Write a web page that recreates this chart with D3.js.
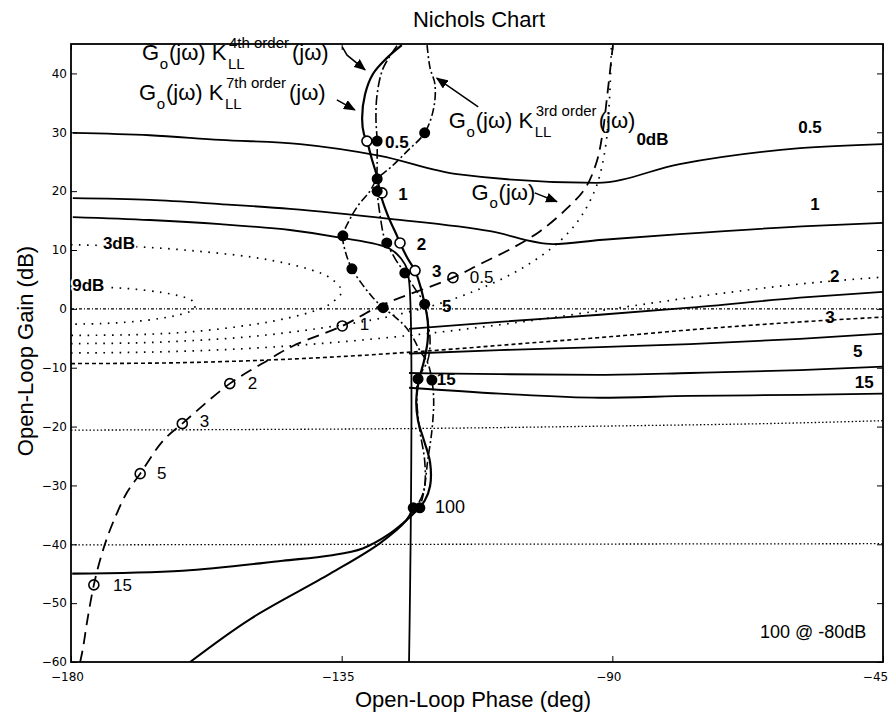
<!DOCTYPE html>
<html><head><meta charset="utf-8">
<script src="https://cdn.jsdelivr.net/npm/d3@7"></script>
<style>
body{margin:0;background:#fff}
svg{display:block;background:#fff}
text{font-family:"Liberation Sans",Arial,Helvetica,sans-serif;fill:#000}
.tick text{font-family:"DejaVu Sans",sans-serif;font-size:12px;fill:#000}
.tick line{stroke:#000;stroke-width:1}
</style></head><body>
<svg id="c" width="892" height="717"></svg>
<script>
// ---------- axes ----------
const phaseTicks = [-180, -135, -90, -45];
const gainTicks = [-60, -50, -40, -30, -20, -10, 0, 10, 20, 30, 40];

// ---------- closed-loop magnitude contours [phase deg, gain dB] ----------
const m3dB = [[-180,10.9],[-170,10.6],[-160,9.9],[-150,8.8],[-145,7.9],[-140,6.6],[-137,5.3],[-135,3.0],[-137,0.8],[-140,-0.5],[-145,-1.8],[-150,-2.7],[-160,-3.9],[-170,-4.4],[-180,-4.5]];
const m9dB = [[-180,3.9],[-175,3.7],[-170,3.4],[-165,2.8],[-162,2.2],[-160,1.5],[-159.3,0.6],[-160,-0.3],[-162,-1.0],[-165,-1.6],[-170,-2.2],[-175,-2.5],[-180,-2.6]];
const m0dB = [[-180,-5.9],[-170,-5.8],[-160,-5.4],[-150,-4.7],[-140,-3.5],[-130,-1.9],[-125,-0.8],[-120,0.5],[-115,2.2],[-110,4.3],[-105,6.9],[-100,10.4],[-97,13.3],[-95,16.0],[-93,19.9],[-92,23.0],[-91,28.5],[-90.6,33.5],[-90.3,39.5],[-90.15,45]];
const mNeg3dB = [[-180,-7.5],[-165,-7.3],[-150,-6.7],[-135,-5.6],[-120,-4.1],[-105,-2.2],[-90,0],[-75,2.2],[-60,4.1],[-45,5.4]];
const mNeg6dB = [[-180,-9.3],[-165,-9.2],[-150,-8.8],[-135,-8.1],[-120,-7.1],[-105,-5.9],[-90,-4.7],[-75,-3.4],[-60,-2.3],[-45,-1.4]];
const mNeg20dB = [[-180,-20.6],[-150,-20.5],[-120,-20.3],[-90,-19.9],[-60,-19.4],[-45,-19.0]];
const mNeg40dB = [[-180,-40.1],[-120,-40.0],[-45,-39.9]];
const zeroGain = [[-180,0],[-45,0]];

// ---------- performance bounds ----------
const bound05 = [[-179.7,29.9],[-166.9,29.5],[-155.2,28.7],[-141.9,28.0],[-128.6,26.0],[-115.8,22.9],[-92.6,21.4],[-78.8,24.6],[-58.8,27.3],[-45,28.0]];
const bound1 = [[-179.7,18.8],[-166.9,18.5],[-155.2,17.8],[-143.6,17.0],[-127.0,15.3],[-110.3,13.2],[-99.9,11.0],[-92.1,11.7],[-78.8,12.7],[-56.6,14.1],[-45,14.6]];
const bound2 = [[-179.7,15.6],[-166.9,15.1],[-155.2,14.4],[-143.6,13.4],[-135.3,12.1],[-127.0,10.2],[-124.5,7.6],[-123.8,4.8],[-123.8,-60]];
const boundR2 = [[-123.8,-3.4],[-108.7,-2.2],[-92.1,-1.0],[-77.1,0.2],[-58.8,1.9],[-45,2.9]];
const boundR5 = [[-123.8,-7.6],[-108.7,-7.0],[-92.1,-6.5],[-77.1,-6.0],[-58.8,-5.1],[-45,-4.2]];
const boundR15 = [[-123.8,-10.9],[-108.7,-11.1],[-92.1,-11.2],[-77.1,-10.9],[-58.8,-10.4],[-45,-9.8]];
const boundRlow = [[-123.8,-13.4],[-108.7,-14.4],[-92.1,-15.1],[-77.1,-14.8],[-58.8,-14.6],[-45,-14.4]];

// ---------- plant and loop transmissions ----------
const plantGo = [[-178.5,-60.1],[-178.0,-57.6],[-177.3,-53.0],[-176.2,-46.9],[-175.2,-42.8],[-174.0,-38.9],[-172.4,-34.8],[-170.7,-31.2],[-168.5,-28.0],[-164.7,-22.4],[-161.5,-19.5],[-153.6,-12.7],[-147.4,-8.8],[-143.1,-6.3],[-134.9,-2.9],[-128.6,0.5],[-116.5,5.3],[-112.0,7.6],[-106.5,10.4],[-102.0,13.2],[-97.5,17.1],[-94.5,20.5],[-92.6,25.0],[-91.6,30.0],[-90.9,35.8],[-89.9,44.8]];
const loop4 = [[-125.0,44.8],[-127.5,42.6],[-129.8,39.9],[-131.1,36.5],[-131.6,32.4],[-131.3,29.7],[-130.8,28.5],[-130.0,25.5],[-129.1,22.4],[-128.6,19.7],[-127.3,15.8],[-125.8,12.4],[-125.3,11.2],[-124.0,8.5],[-122.8,6.5],[-121.8,3.4],[-121.2,0.8],[-120.7,-2.0],[-120.7,-5.4],[-121.3,-8.8],[-122.1,-11.9],[-122.6,-15.6],[-122.3,-19.0],[-121.3,-22.4],[-120.3,-26.1],[-120.3,-30.1],[-121.2,-32.6],[-122.6,-34.3],[-124.0,-35.7],[-127.0,-38.2],[-131.5,-40.7],[-136.9,-41.9],[-144.8,-42.8],[-161.4,-44.5],[-179.8,-45.0]];
const loop7 = [[-125.8,44.7],[-128.1,40.9],[-129.1,36.5],[-129.3,32.4],[-129.1,28.5],[-129.1,25.1],[-129.1,20.0],[-128.6,15.8],[-128.0,12.4],[-127.5,11.2],[-126.1,8.5],[-124.5,6.1],[-122.8,3.4],[-121.2,0.8],[-120.7,-2.0],[-120.3,-5.4],[-120.7,-8.8],[-122.3,-11.9],[-122.5,-15.6],[-122.0,-20.7],[-121.2,-25.8],[-121.2,-30.1],[-122.0,-32.6],[-123.1,-33.8]];
const loop7Tail = [[-123.1,-33.7],[-124.3,-36.0],[-128.6,-39.8],[-136.9,-45.0],[-150.2,-52.7],[-160.2,-60.0]];
const loop3 = [[-120.8,44.8],[-120.3,40.9],[-119.5,38.2],[-119.7,34.1],[-121.2,29.9],[-124.1,26.8],[-127.0,23.9],[-129.1,22.1],[-130.3,20.0],[-132.3,17.5],[-133.6,15.3],[-134.8,12.4],[-134.4,9.8],[-133.3,6.8],[-131.6,4.2],[-129.8,1.9],[-128.1,0.2],[-126.1,-1.4],[-124.5,-2.9],[-123.3,-4.6],[-122.0,-7.1],[-120.7,-9.2],[-120.0,-12.1],[-119.7,-15.6],[-120.0,-20.7],[-120.7,-25.8],[-121.3,-30.9],[-122.0,-33.8]];

// ---------- frequency markers ----------
const freqs = ["0.5","1","2","3","5","15","100"];
const markers4 = [[-130.8,28.5],[-128.3,19.7],[-125.3,11.2],[-122.8,6.5]];
const markers7 = [[-129.1,28.5],[-129.1,20.0],[-127.5,11.2],[-124.5,6.1],[-121.2,0.8],[-122.3,-11.9],[-123.1,-33.8]];
const markers3 = [[-121.2,29.9],[-129.1,22.1],[-134.8,12.4],[-133.3,6.8],[-128.1,0.2],[-120.0,-12.1],[-122.0,-33.8]];
const markersGo = [[-116.5,5.3],[-134.9,-2.9],[-153.6,-12.7],[-161.5,-19.5],[-168.5,-28.0],[-176.2,-46.9]];
const markersGoFreq = ["0.5","1","2","3","5","15"];

// ---------- annotation anchors (data units) ----------
const loopFreqLabels = [["0.5",-127.8,27.3],["1",-125.6,18.5],["2",-122.5,10.0],["3",-120.0,5.4],["5",-118.3,-0.5],["15",-119.2,-12.9]];
const goFreqLabels = [["0.5",-113.7,4.4],["1",-132.0,-3.6],["2",-150.6,-13.7],["3",-158.6,-20.0],["5",-165.7,-28.9],["15",-173.0,-48.0]];
const boundLabels = [["0.5",-59.1,29.9],["1",-57.1,16.8],["2",-53.8,4.6],["3",-54.6,-2.4],["5",-50.0,-8.2],["15",-49.7,-13.5]];
const contourLabels = [["0dB",-86.0,27.9],["3dB",-174.7,10.2],["9dB",-179.8,3.0]];
const legendLabels = [["4th order",-168.2,42.3],["7th order",-168.7,35.5],["3rd order",-117.2,30.7]];
const arrows = [
  [[-134.9,44.5],[-134.1,43.1],[-131.1,40.6]],
  [[-135.8,35.5],[-132.8,33.8]],
  [[-112.3,34.3],[-119.2,39.2]],
  [[-102.9,19.7],[-99.2,18.2]]
];

// ---------- drawing ----------
const x = d3.scaleLinear().domain([-180,-45]).range([71,883]);
const y = d3.scaleLinear().domain([-60,45]).range([662,44]);
const svg = d3.select("#c");
const defs = svg.append("defs");
defs.append("clipPath").attr("id","plot").append("rect")
  .attr("x",x(-180)).attr("y",y(45)).attr("width",x(-45)-x(-180)).attr("height",y(-60)-y(45));
defs.append("marker").attr("id","ah").attr("markerUnits","userSpaceOnUse")
  .attr("markerWidth",12).attr("markerHeight",10).attr("refX",11).attr("refY",5).attr("orient","auto")
  .append("path").attr("d","M0,0L12,5L0,10Z").attr("fill","#000");

const gPlot = svg.append("g").attr("clip-path","url(#plot)");
function draw(data, curve, width, dash, cap) {
  const line = d3.line().x(d => x(d[0])).y(d => y(d[1])).curve(curve);
  gPlot.append("path").datum(data).attr("d", line)
    .attr("fill","none").attr("stroke","#000").attr("stroke-width",width)
    .attr("stroke-dasharray", dash || null).attr("stroke-linecap", cap || "butt")
    .attr("stroke-linejoin","round");
}
const CR = d3.curveCatmullRom.alpha(0.5);
const MX = d3.curveMonotoneX;

// contours
draw(zeroGain, d3.curveLinear, 1.2, "3,2,1,2");
draw(mNeg20dB, MX, 1.3, "1.5,2.2");
draw(mNeg40dB, MX, 1.3, "1.5,2.2");
draw(m3dB, CR, 1.7, "1.6,6.5");
draw(m9dB, CR, 1.7, "1.6,6.5");
draw(m0dB, CR, 1.7, "1.6,6.5");
draw(mNeg3dB, MX, 1.7, "1.6,6.5");
draw(mNeg6dB, MX, 1.6, "4,3");
// bounds
draw(bound05, MX, 1.8);
draw(bound1, MX, 1.8);
draw(bound2, CR, 1.8);
draw(boundR2, MX, 1.8);
draw(boundR5, MX, 1.8);
draw(boundR15, MX, 1.8);
draw(boundRlow, MX, 1.8);
// plant and loops
draw(plantGo, CR, 1.8, "12,7");
draw(loop3, CR, 1.6, "8,3,2,3");
draw(loop7, CR, 1.6, "10,3,2,3");
draw(loop7Tail, CR, 2.0);
draw(loop4, CR, 2.2);

// markers
const gM = svg.append("g");
gM.selectAll("c.go").data(markersGo).enter().append("circle")
  .attr("cx",d=>x(d[0])).attr("cy",d=>y(d[1])).attr("r",5)
  .attr("fill","none").attr("stroke","#000").attr("stroke-width",1.6);
gM.selectAll("c.l4").data(markers4).enter().append("circle")
  .attr("cx",d=>x(d[0])).attr("cy",d=>y(d[1])).attr("r",5)
  .attr("fill","#fff").attr("stroke","#000").attr("stroke-width",1.6);
gM.selectAll("c.l7").data(markers7.concat(markers3)).enter().append("circle")
  .attr("cx",d=>x(d[0])).attr("cy",d=>y(d[1])).attr("r",5.5)
  .attr("fill","#000");

// frame and axes
svg.append("rect").attr("x",x(-180)).attr("y",y(45)).attr("width",x(-45)-x(-180)).attr("height",y(-60)-y(45))
  .attr("fill","none").attr("stroke","#000").attr("stroke-width",1.8);
const ax1 = svg.append("g").attr("transform",`translate(0,${y(-60)})`)
  .call(d3.axisBottom(x).tickValues(phaseTicks).tickSizeInner(-6).tickSizeOuter(0).tickPadding(10));
ax1.selectAll(".tick text").attr("dx", d => d === -45 ? -8 : -4);
const ax2 = svg.append("g").attr("transform",`translate(0,${y(45)})`)
  .call(d3.axisTop(x).tickValues(phaseTicks).tickSizeInner(-6).tickSizeOuter(0).tickFormat(""));
const ax3 = svg.append("g").attr("transform",`translate(${x(-180)},0)`)
  .call(d3.axisLeft(y).tickValues(gainTicks).tickSizeInner(-6).tickSizeOuter(0).tickPadding(4));
const ax4 = svg.append("g").attr("transform",`translate(${x(-45)},0)`)
  .call(d3.axisRight(y).tickValues(gainTicks).tickSizeInner(-6).tickSizeOuter(0).tickFormat(""));
[ax1,ax2,ax3,ax4].forEach(a => a.select(".domain").remove());

// titles
svg.append("text").attr("x",479).attr("y",27).attr("text-anchor","middle").attr("font-size",22).text("Nichols Chart");
svg.append("text").attr("x",473).attr("y",707).attr("text-anchor","middle").attr("font-size",22).text("Open-Loop Phase (deg)");
svg.append("text").attr("transform","translate(33,351) rotate(-90)").attr("text-anchor","middle").attr("font-size",22).text("Open-Loop Gain (dB)");

// labels
const gT = svg.append("g");
function label(t, px, py, fs, bold, halo) {
  const e = gT.append("text").attr("x",px).attr("y",py).attr("font-size",fs)
    .attr("font-weight", bold ? "bold" : "normal").text(t);
  if (halo) e.attr("stroke","#fff").attr("stroke-width",4).attr("paint-order","stroke").attr("stroke-linejoin","round");
}
loopFreqLabels.forEach(d => label(d[0], x(d[1]), y(d[2]), 17, true));
goFreqLabels.forEach(d => label(d[0], x(d[1]), y(d[2]), 17, false));
label("100", x(-119.5), y(-34.7), 18, false);
boundLabels.forEach(d => label(d[0], x(d[1]), y(d[2]), 17, true));
contourLabels.forEach(d => label(d[0], x(d[1]), y(d[2]), 17, true, true));
label("100 @ -80dB", x(-65.45), y(-55.9), 18, false);

// composite labels as single text elements with tspans
function composite(px, py, parts) {
  const t = gT.append("text").attr("font-size",22);
  parts.forEach(p => t.append("tspan").attr("x",px+p[1]).attr("y",py+p[2]).attr("font-size",p[3]).text(p[0]));
}
legendLabels.forEach(d => composite(x(d[1]), y(d[2]),
  [["G",0,0,22],["o",17.8,9,15],["(jω) K",27,0,22],["LL",86,9,15],[d[0],87,-12,15],["(jω)",150,0,22]]));
composite(x(-113.4), y(18.5), [["G",0,0,22],["o",17.8,8,15],["(jω)",27,0,22]]);

// arrows
const aLine = d3.line().x(d => x(d[0])).y(d => y(d[1]));
arrows.forEach(a => svg.append("path").attr("d", aLine(a)).attr("fill","none")
  .attr("stroke","#000").attr("stroke-width",1.5).attr("marker-end","url(#ah)"));
</script>
</body></html>
